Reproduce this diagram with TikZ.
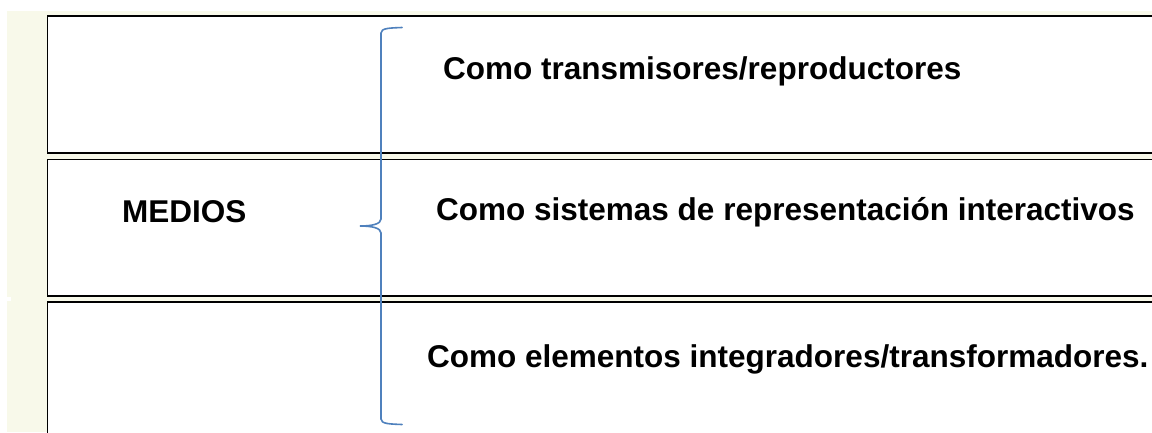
\documentclass[tikz,border=0pt]{standalone}
\usepackage{fontspec}
\setmainfont{Liberation Sans}
\definecolor{cream}{HTML}{F8F9EA}
\definecolor{braceblue}{HTML}{4F81BD}
\tikzset{
  rowbox/.style={draw=black, line width=1.3pt, fill=white},
  lbl/.style={anchor=base west, inner sep=0pt, font=\fontsize{31.5}{36}\selectfont\bfseries},
  bracestyle/.style={draw=braceblue, line width=1.6pt, line cap=round}
}
\begin{document}
\begin{tikzpicture}[x=1pt,y=-1pt]
\useasboundingbox (0,0) rectangle (1152,432);
\fill[cream] (7,11) rectangle (1152,432);
\fill[white] (7,297) rectangle (11,301);
\begin{scope}
\clip (0,0) rectangle (1152,432);
\draw[rowbox] (47.5,16) rectangle (1165,153);
\draw[rowbox] (47.5,159.5) rectangle (1165,296);
\draw[rowbox] (47.5,302) rectangle (1165,445);
\end{scope}
\node[lbl] (medios) at (122,222) {MEDIOS};
\node[lbl] (t1) at (443,79) {Como transmisores/reproductores};
\node[lbl] (t2) at (436,220) {Como sistemas de representación interactivos};
\node[lbl] (t3) at (427,367) {Como elementos integradores/transformadores.};
\draw[bracestyle] (402,27.5) .. controls (390,28) and (381,28) .. (381,33)
  -- (381,219) .. controls (381,224) and (372,226) .. (360,226)
  .. controls (372,226) and (381,228) .. (381,233)
  -- (381,419) .. controls (381,424) and (390,424) .. (402,424.5);
\end{tikzpicture}
\end{document}
